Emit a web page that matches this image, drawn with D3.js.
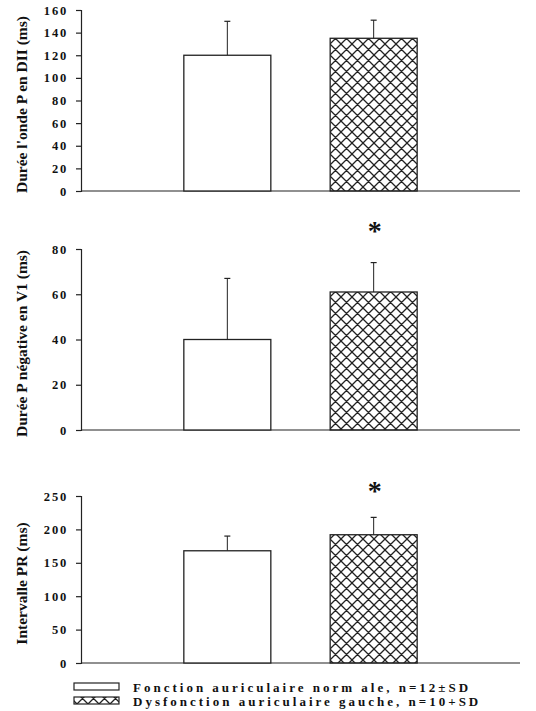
<!DOCTYPE html>
<html>
<head>
<meta charset="utf-8">
<script src="https://cdn.jsdelivr.net/npm/d3@7"></script>
<style>
  body { margin: 0; background: #fff; }
  svg text { font-family: "Liberation Serif", "Times New Roman", serif; font-weight: bold; fill: #111; }
</style>
</head>
<body>
<svg width="536" height="711"></svg>
<script>
// groups
var groups = ['Fonction auriculaire normale', 'Dysfonction auriculaire gauche']
var legendLabels = ['Fonction auriculaire norm ale, n=12\u00b1SD', 'Dysfonction auriculaire gauche, n=10+SD']

// panel values (means and SD)
var titles = ["Durée l'onde P en DII (ms)", 'Durée P négative en V1 (ms)', 'Intervalle PR (ms)']
var meansP = [120, 135], sdP = [30, 16]
var meansV1 = [40, 61], sdV1 = [27, 13]
var meansPR = [168, 192], sdPR = [22, 26]
var ticksP = [0, 20, 40, 60, 80, 100, 120, 140, 160]
var ticksV1 = [0, 20, 40, 60, 80]
var ticksPR = [0, 50, 100, 150, 200, 250]
var starred = [false, true, true]

var panels = [
  { title: titles[0], means: meansP, sd: sdP, ticks: ticksP, top: 10, bottom: 191, star: starred[0], starY: 0 },
  { title: titles[1], means: meansV1, sd: sdV1, ticks: ticksV1, top: 249, bottom: 430, star: starred[1], starY: 240 },
  { title: titles[2], means: meansPR, sd: sdPR, ticks: ticksPR, top: 496, bottom: 663, star: starred[2], starY: 500 }
]

var svg = d3.select('svg')
var axisLeft = 81, axisRight = 520, barW = 87
var ink = '#222'

// crosshatch fill
var defs = svg.append('defs')
var pat = defs.append('pattern')
    .attr('id', 'hatch')
    .attr('patternUnits', 'userSpaceOnUse')
    .attr('width', 11).attr('height', 11)
pat.append('path')
    .attr('d', 'M0,0L11,11M11,0L0,11M-1,1L1,-1M10,12L12,10M-1,10L1,12M10,-1L12,1')
    .attr('stroke', ink).attr('stroke-width', 1.3)

var fills = ['#fff', 'url(#hatch)']

var x = d3.scalePoint()
    .domain(groups)
    .range([axisLeft + (axisRight - axisLeft) / 3, axisLeft + 2 * (axisRight - axisLeft) / 3])

panels.forEach(function(p) {
  var g = svg.append('g')
  var y = d3.scaleLinear()
      .domain([0, d3.max(p.ticks)])
      .range([p.bottom, p.top])

  // y axis
  var ax = g.append('g')
      .attr('transform', 'translate(' + axisLeft + ',0)')
      .call(d3.axisLeft(y).tickValues(p.ticks).tickSize(5).tickPadding(8))
  ax.attr('font-family', null).attr('font-size', null)
  ax.select('.domain').attr('stroke', ink).attr('stroke-width', 1.2)
  ax.selectAll('.tick line').attr('stroke', ink).attr('stroke-width', 1.2)
  ax.selectAll('.tick text')
      .style('font-size', '12.5px')
      .style('letter-spacing', '1.8px')
      .attr('fill', '#111')

  // x baseline
  g.append('line')
      .attr('x1', axisLeft).attr('x2', axisRight)
      .attr('y1', y(0)).attr('y2', y(0))
      .attr('stroke', ink).attr('stroke-width', 1.2)

  // error bars (drawn behind bars)
  groups.forEach(function(grp, i) {
    var cx = x(grp)
    g.append('line')
        .attr('x1', cx).attr('x2', cx)
        .attr('y1', y(p.means[i])).attr('y2', y(p.means[i] + p.sd[i]))
        .attr('stroke', ink).attr('stroke-width', 1)
    g.append('line')
        .attr('x1', cx - 3).attr('x2', cx + 3)
        .attr('y1', y(p.means[i] + p.sd[i])).attr('y2', y(p.means[i] + p.sd[i]))
        .attr('stroke', ink).attr('stroke-width', 1.2)
  })

  // bars
  g.selectAll('rect.bar')
      .data(p.means)
      .enter()
      .append('rect')
      .attr('class', 'bar')
      .attr('x', function(d, i) { return x(groups[i]) - barW / 2 })
      .attr('width', barW)
      .attr('y', function(d) { return y(d) })
      .attr('height', function(d) { return y(0) - y(d) })
      .attr('fill', function(d, i) { return fills[i] })
      .attr('stroke', ink).attr('stroke-width', 1.3)

  // significance star
  if (p.star) {
    g.append('text')
        .attr('x', x(groups[1]) + 1)
        .attr('y', p.starY)
        .attr('text-anchor', 'middle')
        .style('font-size', '28px')
        .text('*')
  }

  // y title
  g.append('text')
      .attr('transform', 'translate(27,' + ((p.top + p.bottom) / 2 + 4) + ') rotate(-90)')
      .attr('text-anchor', 'middle')
      .style('font-size', '15.5px')
      .text(p.title)
})

// legend
var legend = svg.append('g')
legendLabels.forEach(function(lab, i) {
  var ly = 683 + i * 14
  legend.append('rect')
      .attr('x', 74).attr('y', ly)
      .attr('width', 45).attr('height', 7)
      .attr('fill', fills[i])
      .attr('stroke', ink).attr('stroke-width', 1.2)
  legend.append('text')
      .attr('x', 133).attr('y', ly + 9)
      .style('font-size', '13px')
      .style('letter-spacing', '3px')
      .text(lab)
})
</script>
</body>
</html>
